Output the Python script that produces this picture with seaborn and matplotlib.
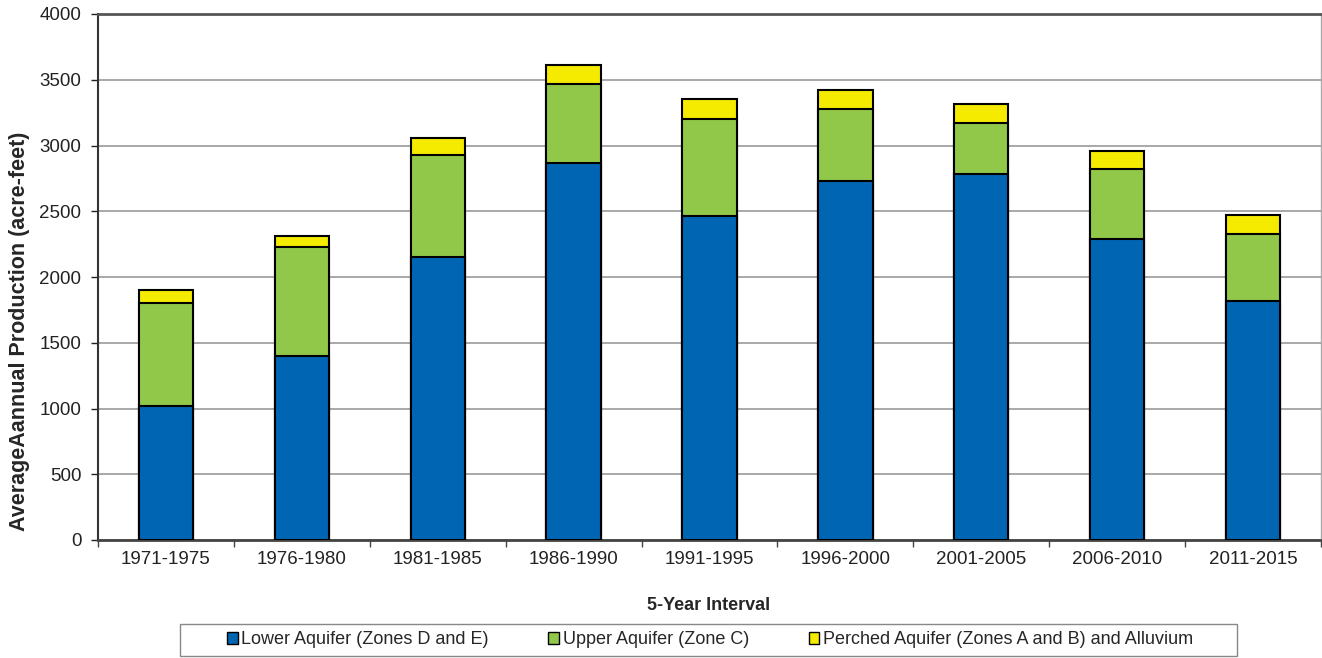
import matplotlib
matplotlib.use("Agg")
import matplotlib.pyplot as plt
import seaborn as sns
import pandas as pd
import numpy as np
from matplotlib.patches import Patch, Rectangle
from matplotlib.ticker import FixedLocator

intervals = ["1971-1975", "1976-1980", "1981-1985", "1986-1990", "1991-1995",
             "1996-2000", "2001-2005", "2006-2010", "2011-2015"]
lower = [1020, 1400, 2155, 2870, 2465, 2730, 2780, 2290, 1820]
upper = [780, 825, 775, 595, 740, 545, 390, 530, 505]
perched = [100, 85, 125, 145, 145, 145, 145, 140, 150]

series_names = ["Lower Aquifer (Zones D and E)", "Upper Aquifer (Zone C)",
                "Perched Aquifer (Zones A and B) and Alluvium"]
colors = ["#0066B3", "#92C84A", "#F5EB00"]

sns.set_style("white")
plt.rcParams['font.family'] = ['Liberation Sans', 'DejaVu Sans']

fig = plt.figure(figsize=(13.22, 6.58), dpi=100)
ax = fig.add_axes([98 / 1322, 1 - 540 / 658, (1321 - 98) / 1322, 526 / 658])

lower_a = np.array(lower)
upper_a = np.array(upper)
perched_a = np.array(perched)
tot1 = lower_a + upper_a
tot2 = tot1 + perched_a

df = pd.DataFrame({"interval": intervals, "l": lower_a, "u": tot1, "p": tot2})

for col, c in zip(["p", "u", "l"], [colors[2], colors[1], colors[0]]):
    sns.barplot(data=df, x="interval", y=col, color=c, width=0.4,
                edgecolor="black", linewidth=1.5, ax=ax, zorder=3, saturation=1)

ax.set_ylim(0, 4000)
ax.set_xlim(-0.5, len(intervals) - 0.5)
ax.set_yticks(np.arange(0, 4001, 500))
ax.yaxis.grid(True, color="#9a9a9a", linewidth=1.2, zorder=0)
ax.set_axisbelow(True)

ax.spines["left"].set_color("#333333")
ax.spines["left"].set_linewidth(1.5)
ax.spines["bottom"].set_color("#444444")
ax.spines["bottom"].set_linewidth(2)
ax.spines["top"].set_color("#555555")
ax.spines["top"].set_linewidth(2)
ax.spines["right"].set_color("#aaaaaa")
ax.spines["right"].set_linewidth(1)

ax.tick_params(axis="x", labelsize=13.5, length=0, pad=8, colors="#222222")
ax.xaxis.set_minor_locator(FixedLocator(np.arange(-0.5, len(intervals), 1.0)))
ax.tick_params(axis="x", which="minor", length=5, width=1, color="#444444",
               bottom=True, direction="out")
ax.tick_params(axis="y", labelsize=13.5, length=5, width=1, pad=7,
               direction="out", left=True, colors="#222222")

ax.set_ylabel("AverageAannual Production (acre-feet)", fontsize=15.5,
              fontweight="bold")
ax.yaxis.set_label_coords(-0.0638, 0.397)
ax.yaxis.label.set_va("center")
ax.set_xlabel("5-Year Interval", fontsize=13, fontweight="bold")
ax.xaxis.set_label_coords(0.499, -0.125)
ax.xaxis.label.set_va("center")

# legend box
fig.patches.append(Rectangle((180 / 1322, 1 - 656 / 658), (1237 - 180) / 1322,
                             32 / 658, transform=fig.transFigure,
                             facecolor="white", edgecolor="#888888",
                             linewidth=1, zorder=0))
handles = [Patch(facecolor=c, edgecolor="black", linewidth=1) for c in colors]
leg = fig.legend(handles, series_names, loc="center",
                 bbox_to_anchor=(710 / 1322, 1 - 640 / 658), ncol=3,
                 frameon=False, fontsize=13,
                 handlelength=0.6, handleheight=0.6, handletextpad=0.2,
                 columnspacing=3.3, borderpad=0.2)

fig.savefig("out.png", dpi=100)
